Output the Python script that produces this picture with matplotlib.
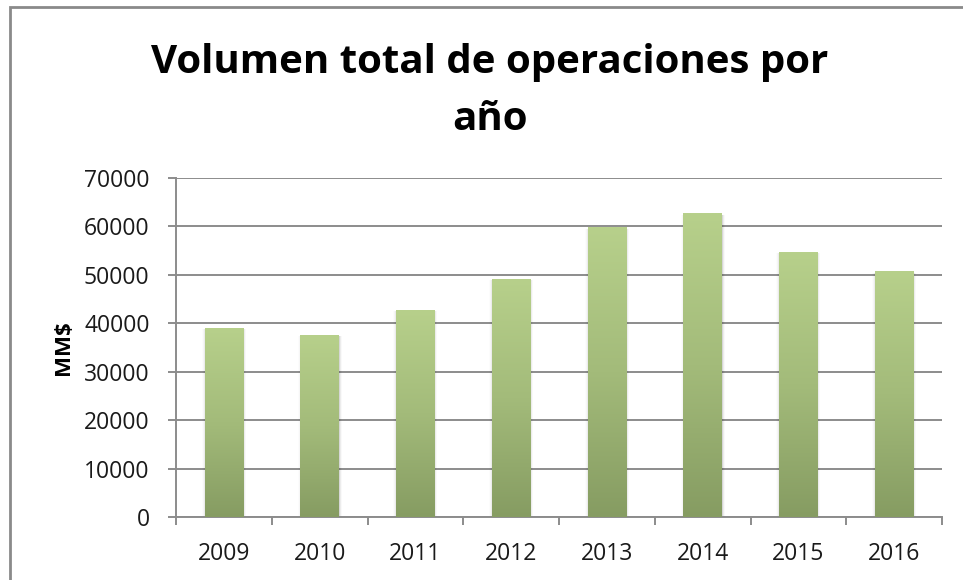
import numpy as np
import matplotlib
matplotlib.use("Agg")
import matplotlib.pyplot as plt
from matplotlib.patches import Rectangle
from matplotlib.colors import LinearSegmentedColormap

# data
years = ['2009', '2010', '2011', '2012', '2013', '2014', '2015', '2016']
volumen = [39000, 37500, 42700, 49100, 59800, 62700, 54700, 50700]
yticks = [0, 10000, 20000, 30000, 40000, 50000, 60000, 70000]

plt.rcParams['font.family'] = ['Open Sans', 'DejaVu Sans']

fig = plt.figure(figsize=(9.63, 5.80), dpi=100)
ax = fig.add_axes([176/963, 1 - 517/580, (942 - 176)/963, (517 - 178)/580])

grey = '#8c8c8c'
green = LinearSegmentedColormap.from_list('verde', ['#869c62', '#a3bb7a', '#b7d08b'])
grad = np.linspace(0, 1, 256).reshape(-1, 1)

x = np.arange(len(years))
bars = ax.bar(x, volumen, width=0.4, color='none', edgecolor='none', zorder=3)
for b in bars:
    x0, w, h = b.get_x(), b.get_width(), b.get_height()
    # soft shadow around the bar
    for k, a in enumerate([0.09, 0.05, 0.025]):
        d = 0.01 * (k + 1)
        ax.add_patch(Rectangle((x0 + w, 0), d, h * 0.995,
                               color='#000000', alpha=a, lw=0, zorder=2))
        ax.add_patch(Rectangle((x0 - d, 0), d, h * 0.995,
                               color='#000000', alpha=a * 0.5, lw=0, zorder=2))
    ax.imshow(grad, cmap=green, origin='lower', aspect='auto',
              extent=[x0, x0 + w, 0, h], zorder=3, interpolation='bilinear')

ax.set_xlim(-0.5, len(years) - 0.5)
ax.set_ylim(0, 70000)
ax.set_yticks(yticks)
ax.set_yticklabels([str(v) for v in yticks])
ax.set_xticks(x)
ax.set_xticklabels(years)
ax.set_xticks(np.arange(len(years) + 1) - 0.5, minor=True)

ax.yaxis.grid(True, color=grey, lw=1.4, zorder=1)
ax.set_axisbelow(True)
for s in ['top', 'right']:
    ax.spines[s].set_visible(False)
for s in ['left', 'bottom']:
    ax.spines[s].set_color(grey)
    ax.spines[s].set_linewidth(1.4)

ax.tick_params(axis='y', length=6, width=1.4, color=grey, pad=13,
               labelsize=16.5, labelcolor='#1a1a1a')
ax.tick_params(axis='x', which='major', length=0, pad=18,
               labelsize=16.5, labelcolor='#1a1a1a')
ax.tick_params(axis='x', which='minor', length=6, width=1.4, color=grey)

ax.set_ylabel('MM$', fontsize=16, fontweight='bold', labelpad=7)

fig.text(490/963, 1 - 73/580, 'Volumen total de operaciones por',
         ha='center', va='baseline', fontsize=29, fontweight='bold')
fig.text(490/963, 1 - 130/580, 'año',
         ha='center', va='baseline', fontsize=29, fontweight='bold')

# outer chart frame (only top and left edges fall inside the picture)
fig.patches.append(Rectangle((10/963, -0.2), 1.2, 1.2 - 7/580,
                             transform=fig.transFigure, fill=False,
                             edgecolor='#8a8a8a', lw=2.0))

fig.savefig('out.png', dpi=100)
